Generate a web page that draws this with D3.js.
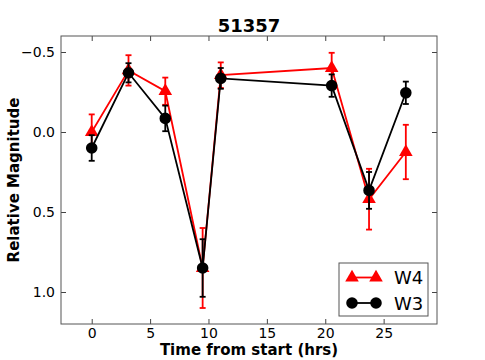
<!DOCTYPE html>
<html>
<head>
<meta charset="utf-8">
<script src="https://cdn.jsdelivr.net/npm/d3@7"></script>
<style>
    body { margin: 0; background: #fff; }
    #chart { width: 485px; height: 360px; }
    text { font-family: "DejaVu Sans", sans-serif; }
</style>
</head>
<body>
<div id="chart"></div>
<script>

// values
const title = "51357";
const times = [0, 3.15, 6.3, 9.5, 11.05, 20.55, 23.75, 26.9];
const w4Mag = [0.0, -0.385, -0.255, 0.85, -0.355, -0.40, 0.42, 0.125];
const w4Err = [0.11, 0.095, 0.085, 0.25, 0.08, 0.095, 0.19, 0.17];
const w3Mag = [0.10, -0.37, -0.085, 0.85, -0.335, -0.29, 0.365, -0.245];
const w3Err = [0.08, 0.06, 0.08, 0.18, 0.065, 0.07, 0.115, 0.07];
const xTicks = [0, 5, 10, 15, 20, 25];
const yTicks = [-0.5, 0.0, 0.5, 1.0];

class MagVis {

    constructor(parentElement) {
        this.parentElement = parentElement;
        this.initVis();
    }

    initVis() {
        let vis = this;

        vis.margin = {top: 36, right: 48, bottom: 36, left: 61};
        vis.width = 485 - vis.margin.left - vis.margin.right;
        vis.height = 360 - vis.margin.top - vis.margin.bottom;

        vis.root = d3.select("#" + vis.parentElement).append("svg")
            .attr("width", 485)
            .attr("height", 360);

        vis.svg = vis.root.append("g")
            .attr("transform", `translate(${vis.margin.left}, ${vis.margin.top})`);

        vis.x = d3.scaleLinear().domain([-2.63, 29.57]).range([0, vis.width]);
        // magnitudes: brighter is up
        vis.y = d3.scaleLinear().domain([-0.6, 1.2]).range([0, vis.height]);

        // axes, ticks pointing inward
        let fmt = d3.format(".1f");
        vis.svg.append("g").attr("transform", `translate(0, ${vis.height})`)
            .call(d3.axisBottom(vis.x).tickValues(xTicks).tickSizeInner(-5).tickSizeOuter(0).tickPadding(4));
        vis.svg.append("g")
            .call(d3.axisTop(vis.x).tickValues(xTicks).tickSizeInner(-5).tickSizeOuter(0).tickFormat(""));
        vis.svg.append("g")
            .call(d3.axisLeft(vis.y).tickValues(yTicks).tickSizeInner(-5).tickSizeOuter(0).tickPadding(6).tickFormat(fmt));
        vis.svg.append("g").attr("transform", `translate(${vis.width}, 0)`)
            .call(d3.axisRight(vis.y).tickValues(yTicks).tickSizeInner(-5).tickSizeOuter(0).tickFormat(""));

        vis.svg.selectAll(".domain").remove();
        vis.svg.selectAll(".tick line").attr("stroke", "#444");
        vis.svg.selectAll(".tick text").attr("font-size", 14).attr("fill", "#000")
            .attr("font-family", "DejaVu Sans");

        vis.svg.append("rect")
            .attr("width", vis.width).attr("height", vis.height)
            .attr("fill", "none").attr("stroke", "#555").attr("stroke-width", 1);

        // labels
        vis.root.append("text")
            .attr("x", vis.margin.left + vis.width / 2).attr("y", 32)
            .attr("text-anchor", "middle").attr("font-size", 18).attr("font-weight", "bold")
            .text(title);

        vis.root.append("text")
            .attr("x", vis.margin.left + vis.width / 2).attr("y", 355)
            .attr("text-anchor", "middle").attr("font-size", 15).attr("font-weight", "bold")
            .text("Time from start (hrs)");

        vis.root.append("text")
            .attr("transform", `translate(19, ${vis.margin.top + vis.height / 2}) rotate(-90)`)
            .attr("text-anchor", "middle").attr("font-size", 15).attr("font-weight", "bold")
            .text("Relative Magnitude");

        vis.series = [
            {name: "W4", color: "red", mag: w4Mag, err: w4Err, marker: d3.symbolTriangle, size: 80},
            {name: "W3", color: "black", mag: w3Mag, err: w3Err, marker: d3.symbolCircle, size: 105}
        ];

        vis.updateVis();
    }

    updateVis() {
        let vis = this;

        let line = d3.line()
            .x(d => vis.x(d.t))
            .y(d => vis.y(d.m));

        vis.series.forEach(function (s) {
            let pts = times.map((t, i) => ({t: t, m: s.mag[i], e: s.err[i]}));
            let g = vis.svg.append("g");

            g.append("path")
                .attr("d", line(pts))
                .attr("fill", "none")
                .attr("stroke", s.color)
                .attr("stroke-width", 1.8);

            // error bars with caps
            let bars = g.selectAll(".err").data(pts).enter().append("g");
            bars.append("line")
                .attr("x1", d => vis.x(d.t)).attr("x2", d => vis.x(d.t))
                .attr("y1", d => vis.y(d.m - d.e)).attr("y2", d => vis.y(d.m + d.e))
                .attr("stroke", s.color).attr("stroke-width", 1.8);
            [-1, 1].forEach(function (sign) {
                bars.append("line")
                    .attr("x1", d => vis.x(d.t) - 3).attr("x2", d => vis.x(d.t) + 3)
                    .attr("y1", d => vis.y(d.m + sign * d.e)).attr("y2", d => vis.y(d.m + sign * d.e))
                    .attr("stroke", s.color).attr("stroke-width", 1.8);
            });

            g.selectAll(".mk").data(pts).enter().append("path")
                .attr("d", d3.symbol().type(s.marker).size(s.size))
                .attr("transform", d => `translate(${vis.x(d.t)}, ${vis.y(d.m)})`)
                .attr("fill", s.color);
        });

        // legend
        let lg = vis.root.append("g").attr("transform", "translate(339, 263)");
        lg.append("rect").attr("width", 89).attr("height", 53)
            .attr("fill", "#fff").attr("stroke", "#555").attr("stroke-width", 1);
        vis.series.forEach(function (s, i) {
            let yy = 14.5 + i * 25.5;
            lg.append("line").attr("x1", 13).attr("x2", 37).attr("y1", yy).attr("y2", yy)
                .attr("stroke", s.color).attr("stroke-width", 1.8);
            [13, 37].forEach(function (xx) {
                lg.append("path")
                    .attr("d", d3.symbol().type(s.marker).size(s.size))
                    .attr("transform", `translate(${xx}, ${yy})`)
                    .attr("fill", s.color);
            });
            lg.append("text").attr("x", 55).attr("y", yy + 6.5)
                .attr("font-size", 18).text(s.name);
        });
    }
}

new MagVis("chart");
</script>
</body>
</html>
